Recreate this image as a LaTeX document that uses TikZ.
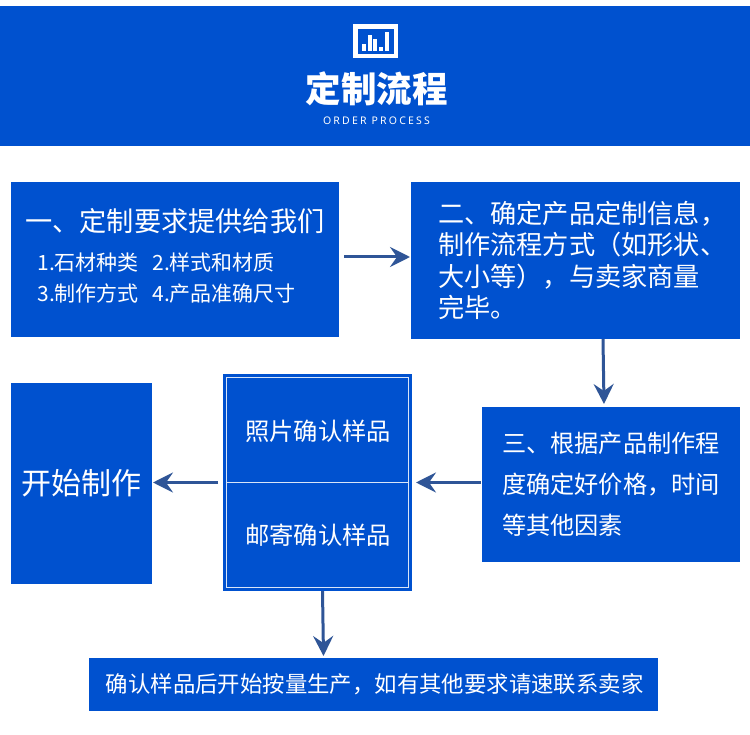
\documentclass[tikz,border=0pt]{standalone}
\usepackage{fontspec}
\setmainfont{Noto Sans CJK SC}
\newfontfamily\latinfont[LetterSpace=21]{Noto Sans}
\usetikzlibrary{arrows.meta}
\definecolor{boxblue}{HTML}{0051CF}
\definecolor{arrowblue}{HTML}{2F5597}
\newcommand{\sizepx}[2]{\fontsize{#1}{#2}\selectfont}
\tikzset{
    bluebox/.style={fill=boxblue, draw=none, text=white, inner sep=0pt, outer sep=0pt},
    flowarrow/.style={draw=arrowblue, line width=3pt, -{Stealth[length=20pt, width=20pt, inset=7pt]}},
    whiteline/.style={draw=white!85!boxblue, line width=1pt},
}
\begin{document}
\begin{tikzpicture}[x=1pt, y=-1pt]
    \useasboundingbox (0,0) rectangle (750,735);
    \fill[white] (0,0) rectangle (750,735);
    % Header
    \fill[boxblue] (0,6.5) rectangle (750,146);
    \draw[white, line width=4.4pt] (355.3,26.5) rectangle (396,56.3);
    \foreach \barx/\bartop in {363.7/44, 369.7/34.7, 375.4/38.7, 381.3/47.3, 387.3/32}
        \fill[white] (\barx-2,\bartop) rectangle (\barx+2,51.3);
    \node[text=white, font=\bfseries\sizepx{35.5}{40}] (title) at (376.5,89) {定制流程};
    \node[text=white, font=\sizepx{10.5}{12}] (subtitle) at (376.5,120.5) {\latinfont ORDER PROCESS};
    % Boxes
    \node[bluebox, minimum width=328pt, minimum height=155pt, align=left, font=\sizepx{21}{31}] (require) at (175,259.5)
        {{\sizepx{27.2}{32}一、定制要求提供给我们}\\[8pt]
        \hspace*{12pt}1.石材种类\hspace{13.5pt}2.样式和材质\\
        \hspace*{12pt}3.制作方式\hspace{13.5pt}4.产品准确尺寸\\[-21pt]};
    \node[bluebox, minimum width=329pt, minimum height=157pt, text width=275pt, align=left, font=\sizepx{26.2}{31.5}] (confirm) at (575.5,260.5)
        {二、确定产品定制信息，\\制作流程方式（如形状、\\大小等），与卖家商量\\完毕。};
    \node[bluebox, minimum width=258pt, minimum height=155pt, text width=218pt, align=left, font=\sizepx{24.2}{41}] (price) at (611,484.5)
        {三、根据产品制作程\\度确定好价格，时间\\等其他因素};
    \node[bluebox, minimum width=189pt, minimum height=217pt] (sample) at (317.5,482.5) {};
    \draw[whiteline] (226.5,377.5) rectangle (408.5,587.5);
    \draw[whiteline] (226.5,482.5) -- (408.5,482.5);
    \node[text=white, font=\sizepx{24.3}{28}] (photo) at (318,431) {照片确认样品};
    \node[text=white, font=\sizepx{24.3}{28}] (post) at (318,535) {邮寄确认样品};
    \node[bluebox, minimum width=141pt, minimum height=201pt, font=\sizepx{30}{36}] (start) at (81.5,483.5) {开始制作};
    \node[bluebox, minimum width=569pt, minimum height=53pt, font=\sizepx{22.4}{28}] (produce) at (373.5,684.5)
        {\hspace*{2.5pt}确认样品后开始按量生产，如有其他要求请速联系卖家};
    % Arrows
    \coordinate (reqout) at (344,257);
    \coordinate (confirmin) at (410,257);
    \coordinate (confirmout) at (603,339);
    \coordinate (pricein) at (604,404);
    \coordinate (priceout) at (481,482.5);
    \coordinate (samplein) at (416,482.5);
    \coordinate (sampleout) at (218,482.5);
    \coordinate (startin) at (153,482.5);
    \coordinate (sampledown) at (322.5,591);
    \coordinate (producein) at (323.5,656);
    \draw[flowarrow] (reqout) -- (confirmin);
    \draw[flowarrow] (confirmout) -- (pricein);
    \draw[flowarrow] (priceout) -- (samplein);
    \draw[flowarrow] (sampleout) -- (startin);
    \draw[flowarrow] (sampledown) -- (producein);
\end{tikzpicture}
\end{document}
